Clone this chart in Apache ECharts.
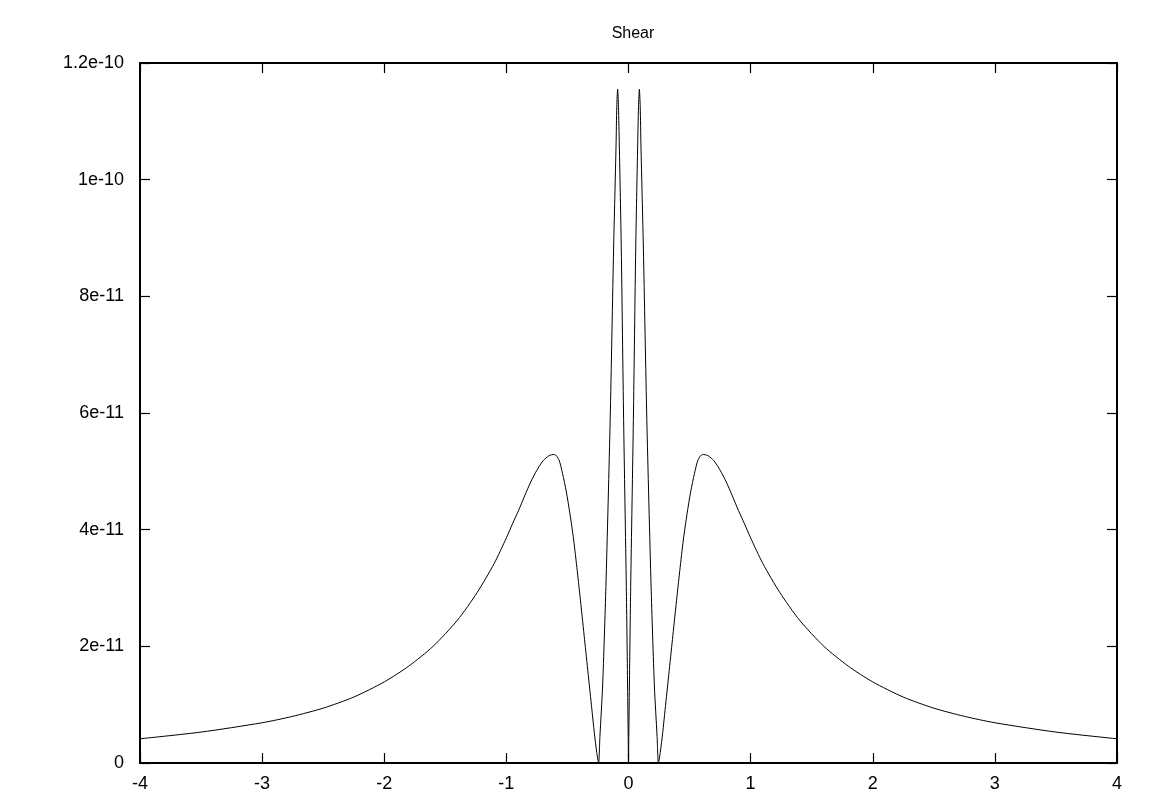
<!DOCTYPE html>
<html>
<head>
<meta charset="utf-8">
<script src="https://cdn.jsdelivr.net/npm/echarts@6/dist/echarts.min.js"></script>
<style>
html,body{margin:0;padding:0;background:#fff;}
#chart{width:1155px;height:805px;}
</style>
</head>
<body>
<div id="chart"></div>
<script>
// x positions of the sampled curve (negative half)
var xLeft = [
  -4.0, -3.5, -3.0, -2.75, -2.5, -2.25, -2.0, -1.8, -1.6, -1.4, -1.24, -1.1, -1.0, -0.95,
  -0.9, -0.85, -0.8, -0.75, -0.7, -0.65, -0.607, -0.57, -0.54, -0.51, -0.48, -0.45,
  -0.42, -0.39, -0.36, -0.33, -0.30, -0.28, -0.26, -0.245, -0.234, -0.212, -0.185,
  -0.15, -0.122, -0.102, -0.096, -0.089, -0.082, -0.075, -0.059, -0.04, -0.018, -0.0074, -0.0025
];
// shear values of the negative half, in units of 1e-11
var shearLeft = [
  0.415, 0.53, 0.69, 0.80, 0.94, 1.13, 1.39, 1.66, 2.00, 2.45, 2.92, 3.42, 3.86, 4.10,
  4.33, 4.58, 4.82, 5.02, 5.18, 5.27, 5.29, 5.20, 4.96, 4.66, 4.28, 3.84,
  3.30, 2.72, 2.12, 1.52, 0.92, 0.52, 0.18, 0.0, 0.46, 1.32, 3.03,
  5.89, 8.81, 10.58, 11.25, 11.55, 11.25, 10.58, 8.81, 5.89, 3.03, 1.32, 0.46
];
// centre point
var xCentre = [0.0];
var shearCentre = [0.0];
// x positions of the sampled curve (positive half)
var xRight = [
  0.0025, 0.0074, 0.018, 0.04, 0.059, 0.075, 0.082, 0.089, 0.096, 0.102, 0.122, 0.15, 0.185, 0.212,
  0.234, 0.245, 0.26, 0.28, 0.30, 0.33, 0.36, 0.39, 0.42, 0.45, 0.48, 0.51, 0.54, 0.57,
  0.607, 0.65, 0.7, 0.75, 0.8, 0.85, 0.9, 0.95, 1.0, 1.1, 1.24, 1.4, 1.6, 1.8, 2.0,
  2.25, 2.5, 2.75, 3.0, 3.5, 4.0
];
// shear values of the positive half, in units of 1e-11
var shearRight = [
  0.46, 1.32, 3.03, 5.89, 8.81, 10.58, 11.25, 11.55, 11.25, 10.58, 8.81, 5.89, 3.03, 1.32,
  0.46, 0.0, 0.18, 0.52, 0.92, 1.52, 2.12, 2.72, 3.30, 3.84, 4.28, 4.66, 4.96, 5.20,
  5.29, 5.27, 5.18, 5.02, 4.82, 4.58, 4.33, 4.10, 3.86, 3.42, 2.92, 2.45, 2.00, 1.66, 1.39,
  1.13, 0.94, 0.80, 0.69, 0.53, 0.415
];
var xTickLabels = ['-4', '-3', '-2', '-1', '0', '1', '2', '3', '4'];
var yTickLabels = ['0', '2e-11', '4e-11', '6e-11', '8e-11', '1e-10', '1.2e-10'];
var titleText = 'Shear';

var xAll = xLeft.concat(xCentre, xRight);
var yAll = shearLeft.concat(shearCentre, shearRight);
var points = xAll.map(function (x, i) { return [x, yAll[i]]; });

var font = 'Liberation Sans, Arial, Helvetica, sans-serif';
var lineCol = '#000';
function axisCommon(extra) {
  var base = {
    axisLine: { show: true, onZero: false, lineStyle: { color: lineCol, width: 2 } },
    axisTick: { show: true, inside: true, length: 10, lineStyle: { color: lineCol, width: 1.2 } },
    splitLine: { show: false }
  };
  for (var k in extra) base[k] = extra[k];
  return base;
}

var chart = echarts.init(document.getElementById('chart'), null, { renderer: 'canvas' });
chart.setOption({
  animation: false,
  backgroundColor: '#fff',
  title: {
    text: titleText,
    left: 628, top: 21, textAlign: 'center',
    textStyle: { fontFamily: font, fontSize: 16, fontWeight: 'normal', color: '#000' }
  },
  grid: { left: 140, right: 38, top: 63, bottom: 42, containLabel: false },
  xAxis: [
    axisCommon({
      type: 'value', min: -4, max: 4, interval: 1, position: 'bottom',
      axisLabel: {
        color: '#000', fontFamily: font, fontSize: 18, margin: 12,
        formatter: function (v) { return xTickLabels[Math.round(v + 4)]; }
      }
    }),
    axisCommon({
      type: 'value', min: -4, max: 4, interval: 1, position: 'top',
      axisLabel: { show: false }
    })
  ],
  yAxis: [
    axisCommon({
      type: 'value', min: 0, max: 12, interval: 2, position: 'left',
      axisLabel: {
        color: '#000', fontFamily: font, fontSize: 18, margin: 16,
        formatter: function (v) { return yTickLabels[Math.round(v / 2)]; }
      }
    }),
    axisCommon({
      type: 'value', min: 0, max: 12, interval: 2, position: 'right',
      axisLabel: { show: false }
    })
  ],
  series: [{
    type: 'line',
    data: points,
    showSymbol: false,
    smooth: 0.25,
    lineStyle: { color: '#000', width: 1 },
    clip: true
  }]
});
</script>
</body>
</html>
